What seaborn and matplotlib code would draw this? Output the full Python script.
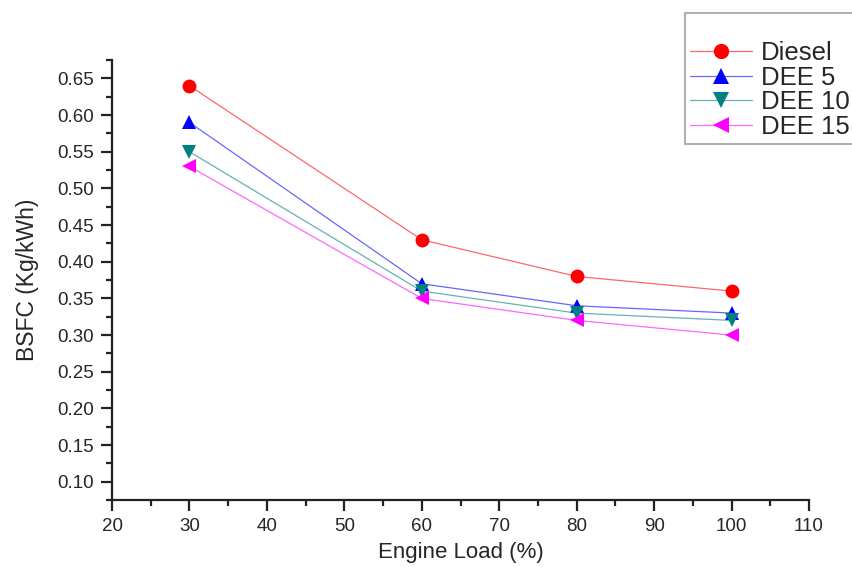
import matplotlib
matplotlib.use("Agg")
import matplotlib.pyplot as plt
import seaborn as sns
import pandas as pd
from matplotlib.colors import to_rgba
from matplotlib.ticker import MultipleLocator

load = [30, 60, 80, 100]
diesel = [0.64, 0.43, 0.38, 0.36]
dee5 = [0.59, 0.37, 0.34, 0.33]
dee10 = [0.55, 0.36, 0.33, 0.32]
dee15 = [0.53, 0.35, 0.32, 0.30]
fuels = ["Diesel", "DEE 5", "DEE 10", "DEE 15"]

colors = {"Diesel": "#ff0000", "DEE 5": "#0000ff", "DEE 10": "#008080", "DEE 15": "#ff00ff"}
markers = {"Diesel": "o", "DEE 5": "^", "DEE 10": "v", "DEE 15": "<"}

rows = []
for name, vals in zip(fuels, [diesel, dee5, dee10, dee15]):
    for x, y in zip(load, vals):
        rows.append({"load": x, "bsfc": y, "fuel": name})
df = pd.DataFrame(rows)

sns.set_style("ticks")
plt.rcParams['font.family'] = ['Liberation Sans', 'DejaVu Sans']

fig = plt.figure(figsize=(8.52, 5.67), dpi=100)
ax = fig.add_axes([0.1315, 0.118, 0.818, 0.776])

sns.lineplot(data=df, x="load", y="bsfc", hue="fuel", style="fuel",
             hue_order=fuels, style_order=fuels, palette=colors,
             markers=markers, dashes=False, markersize=10,
             markeredgewidth=0, linewidth=0.9, ax=ax, legend=False)

# lighter connecting lines, solid markers
for line, name in zip(ax.lines, fuels):
    line.set_color(to_rgba(colors[name], 0.6))
    line.set_markerfacecolor(colors[name])

handles = []
for name in fuels:
    h, = ax.plot([], [], color=to_rgba(colors[name], 0.6), marker=markers[name],
                 markerfacecolor=colors[name], markersize=11,
                 markeredgewidth=0, linewidth=0.9, label=name)
    handles.append(h)

ax.set_xlim(20, 110)
ax.set_ylim(0.075, 0.675)
ax.xaxis.set_major_locator(MultipleLocator(10))
ax.xaxis.set_minor_locator(MultipleLocator(5))
ax.yaxis.set_minor_locator(MultipleLocator(0.025))
ax.set_yticks([0.10, 0.15, 0.20, 0.25, 0.30, 0.35, 0.40, 0.45, 0.50, 0.55, 0.60, 0.65])
ax.set_yticklabels([f"{v:.2f}" for v in ax.get_yticks()])

sns.despine(ax=ax)
for s in ["left", "bottom"]:
    ax.spines[s].set_linewidth(1.6)
    ax.spines[s].set_color("#222222")
ax.tick_params(which="major", length=8, width=1.6, labelsize=13.5, color="#222222", pad=5)
ax.tick_params(which="minor", length=4.5, width=1.6, color="#222222")

ax.set_xlabel("Engine Load (%)", fontsize=16, labelpad=5)
ax.set_ylabel("BSFC (Kg/kWh)", fontsize=16.5, labelpad=13)

leg = fig.legend(handles=handles, loc="upper left",
                 bbox_to_anchor=(685 / 852, 1 - 13 / 567),
                 fontsize=18.5, title=" ", title_fontsize=17,
                 frameon=True, fancybox=False, edgecolor="#888888",
                 labelspacing=0.03, handlelength=2.4, handletextpad=0.35,
                 borderaxespad=0, borderpad=0.2)
leg.get_frame().set_linewidth(1.2)

fig.savefig("out.png", dpi=100)
